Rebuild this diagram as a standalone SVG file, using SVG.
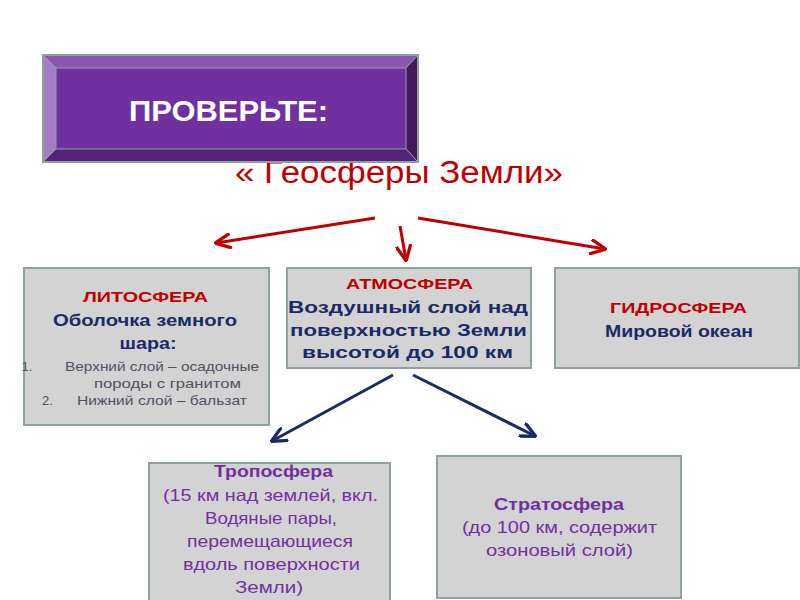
<svg xmlns="http://www.w3.org/2000/svg" width="800" height="600" viewBox="0 0 800 600">
<defs>
<style>
text{font-family:"Liberation Sans",Arial,sans-serif;text-anchor:middle}
.box{fill:#d3d3d3;stroke:#8fa0a0;stroke-width:2}
.red{fill:#c00000;font-weight:bold;font-size:15.5px}
.navy{fill:#1a2a66;font-weight:bold;font-size:16.5px}
.list{fill:#505060;font-size:13px}
.purp{fill:#7030a0;font-size:16.5px}
.ra{stroke:#c00000;stroke-width:3;fill:none;marker-end:url(#ar)}
.ba{stroke:#1a2a66;stroke-width:3;fill:none;marker-end:url(#ab)}
</style>
<marker id="ar" viewBox="0 0 10 10" refX="9" refY="5" markerWidth="5.5" markerHeight="5.5" orient="auto" markerUnits="strokeWidth"><path d="M0,0.5 L9.5,5 L0,9.5" fill="none" stroke="#c00000" stroke-width="2"/></marker>
<marker id="ab" viewBox="0 0 10 10" refX="9" refY="5" markerWidth="5.5" markerHeight="5.5" orient="auto" markerUnits="strokeWidth"><path d="M0,0.5 L9.5,5 L0,9.5" fill="none" stroke="#1a2a66" stroke-width="2"/></marker>
</defs>
<rect width="800" height="600" fill="#ffffff"/>
<text x="399" y="183" fill="#c00000" font-size="31" textLength="328" lengthAdjust="spacingAndGlyphs">« Геосферы Земли»</text>
<g id="header">
<polygon points="43,55 418,55 406,68 56,68" fill="#8c56b0"/>
<polygon points="43,55 56,68 56,149 43,162" fill="#a47dc4"/>
<polygon points="418,55 418,162 406,149 406,68" fill="#45195c"/>
<polygon points="43,162 56,149 406,149 418,162" fill="#55227a"/>
<rect x="56" y="68" width="350" height="81" fill="#7030a0"/>
<rect x="43" y="55" width="375" height="107" fill="none" stroke="#8fa0a0" stroke-width="2"/>
<path d="M43,55 L56,68 M418,55 L406,68 M43,162 L56,149 M418,162 L406,149 M56,68 H406 V149 H56 Z" stroke="#8fa0a0" stroke-width="1" fill="none"/>
<text x="228.5" y="121" fill="#ffffff" font-weight="bold" font-size="30" textLength="199" lengthAdjust="spacingAndGlyphs">ПРОВЕРЬТЕ:</text>
</g>
<g id="connectors">
<line class="ra" x1="375" y1="218" x2="216" y2="243"/>
<line class="ra" x1="400" y1="226" x2="406" y2="260"/>
<line class="ra" x1="418" y1="218" x2="605" y2="249"/>
<line class="ba" x1="393" y1="375" x2="272" y2="441"/>
<line class="ba" x1="413" y1="375" x2="535" y2="436"/>
</g>
<g id="litosfera">
<rect class="box" x="24" y="268" width="245" height="157"/>
<text class="red" x="145.5" y="302" textLength="125" lengthAdjust="spacingAndGlyphs">ЛИТОСФЕРА</text>
<text class="navy" x="145" y="326" textLength="184" lengthAdjust="spacingAndGlyphs">Оболочка земного</text>
<text class="navy" x="148" y="349" textLength="57" lengthAdjust="spacingAndGlyphs">шара:</text>
<text class="list" x="27" y="371">1.</text>
<text class="list" x="162" y="371" textLength="194" lengthAdjust="spacingAndGlyphs">Верхний слой – осадочные</text>
<text class="list" x="167.5" y="388" textLength="147" lengthAdjust="spacingAndGlyphs">породы с гранитом</text>
<text class="list" x="47.5" y="405">2.</text>
<text class="list" x="162" y="405" textLength="170" lengthAdjust="spacingAndGlyphs">Нижний слой – бальзат</text>
</g>
<g id="atmosfera">
<rect class="box" x="287" y="268" width="244" height="100"/>
<text class="red" x="409.5" y="289" textLength="127" lengthAdjust="spacingAndGlyphs">АТМОСФЕРА</text>
<text class="navy" x="408" y="313" textLength="240" lengthAdjust="spacingAndGlyphs">Воздушный слой над</text>
<text class="navy" x="408.5" y="336" textLength="237" lengthAdjust="spacingAndGlyphs">поверхностью Земли</text>
<text class="navy" x="407.5" y="358" textLength="211" lengthAdjust="spacingAndGlyphs">высотой до 100 км</text>
</g>
<g id="gidrosfera">
<rect class="box" x="555" y="268" width="244" height="100"/>
<text class="red" x="678.5" y="313" textLength="137" lengthAdjust="spacingAndGlyphs">ГИДРОСФЕРА</text>
<text class="navy" x="679" y="337" textLength="148" lengthAdjust="spacingAndGlyphs">Мировой океан</text>
</g>
<g id="troposfera">
<rect class="box" x="149" y="463" width="241" height="145"/>
<text class="purp" x="273.5" y="477" font-weight="bold" textLength="119" lengthAdjust="spacingAndGlyphs">Тропосфера</text>
<text class="purp" x="270.5" y="501" textLength="215" lengthAdjust="spacingAndGlyphs">(15 км над землей, вкл.</text>
<text class="purp" x="271" y="524" textLength="132" lengthAdjust="spacingAndGlyphs">Водяные пары,</text>
<text class="purp" x="270" y="547" textLength="166" lengthAdjust="spacingAndGlyphs">перемещающиеся</text>
<text class="purp" x="271.5" y="570" textLength="177" lengthAdjust="spacingAndGlyphs">вдоль поверхности</text>
<text class="purp" x="269" y="593" textLength="68" lengthAdjust="spacingAndGlyphs">Земли)</text>
</g>
<g id="stratosfera">
<rect class="box" x="437" y="456" width="244" height="142"/>
<text class="purp" x="559" y="510" font-weight="bold" textLength="130" lengthAdjust="spacingAndGlyphs">Стратосфера</text>
<text class="purp" x="559.5" y="533" textLength="195" lengthAdjust="spacingAndGlyphs">(до 100 км, содержит</text>
<text class="purp" x="559.5" y="556" textLength="147" lengthAdjust="spacingAndGlyphs">озоновый слой)</text>
</g>
</svg>
